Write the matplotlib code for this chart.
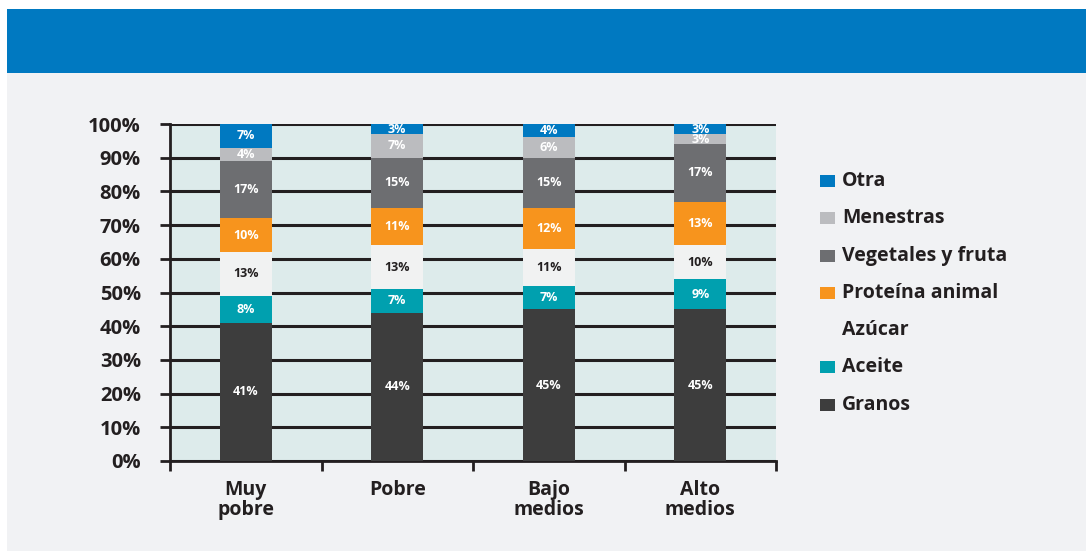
import matplotlib
matplotlib.use("Agg")
import matplotlib.pyplot as plt
from matplotlib.patches import Rectangle
import numpy as np

categories = ["Muy\npobre", "Pobre", "Bajo\nmedios", "Alto\nmedios"]
series_names = ["Granos", "Aceite", "Azúcar", "Proteína animal",
                "Vegetales y fruta", "Menestras", "Otra"]
granos = [41, 44, 45, 45]
aceite = [8, 7, 7, 9]
azucar = [13, 13, 11, 10]
proteina = [10, 11, 12, 13]
vegetales = [17, 15, 15, 17]
menestras = [4, 7, 6, 3]
otra = [7, 3, 4, 3]
series_values = [granos, aceite, azucar, proteina, vegetales, menestras, otra]
colors = ["#3D3D3D", "#00A0AF", "#F1F2F2", "#F7941D", "#6D6E71", "#BBBCBF", "#0079C1"]
label_colors = ["white", "white", "#231F20", "white", "white", "white", "white"]
yticks = [0, 10, 20, 30, 40, 50, 60, 70, 80, 90, 100]

plt.rcParams['font.family'] = ['Open Sans', 'DejaVu Sans']
txt = "#231F20"

W, H = 1086, 551
fig = plt.figure(figsize=(W / 100, H / 100), dpi=100)
fig.patch.set_facecolor("white")
# background panel and header band
fig.patches.append(Rectangle((7 / W, 0), 1 - 7 / W, 1 - 73 / H, transform=fig.transFigure,
                             facecolor="#F1F2F4", edgecolor="none", zorder=-10))
fig.patches.append(Rectangle((7 / W, 1 - 73 / H), 1 - 7 / W, 64 / H, transform=fig.transFigure,
                             facecolor="#0079C1", edgecolor="none", zorder=-10))

ax = fig.add_axes([170 / W, 1 - 461 / H, (776 - 170) / W, (461 - 124) / H])
ax.set_facecolor("#DDEBEB")
x = np.arange(len(categories))
bottom = np.zeros(len(categories))
for name, vals, c, lc in zip(series_names, series_values, colors, label_colors):
    vals = np.array(vals, dtype=float)
    ax.bar(x, vals, 0.34, bottom=bottom, color=c, zorder=3, label=name)
    for xi, b, v in zip(x, bottom, vals):
        ax.text(xi, b + v / 2, f"{int(v)}%", ha="center", va="center",
                fontsize=9, fontweight="bold", color=lc, zorder=4)
    bottom += vals

ax.set_xlim(-0.5, 3.5)
ax.set_ylim(0, 100)
ax.set_yticks(yticks)
ax.set_yticklabels([f"{t}%" for t in yticks], fontsize=14.5, fontweight="bold", color=txt)
ax.yaxis.grid(True, color="#231F20", linewidth=2.2, zorder=1)
ax.set_axisbelow(True)
ax.tick_params(axis="y", length=7, width=2, color="#231F20", pad=14)
ax.set_xticks(x)
ax.set_xticklabels(categories, fontsize=14, fontweight="bold", color=txt, linespacing=0.95)
ax.set_xticks(np.arange(-0.5, 4.0, 1.0), minor=True)
ax.tick_params(axis="x", which="major", length=0, pad=14)
ax.tick_params(axis="x", which="minor", length=7, width=2, color="#231F20")
for s in ["top", "right"]:
    ax.spines[s].set_visible(False)
for s in ["left", "bottom"]:
    ax.spines[s].set_color("#231F20")
    ax.spines[s].set_linewidth(2)

# legend (top to bottom: reversed order)
leg_y = [181, 218, 256, 293, 330, 367, 405]
for yy, name, c in zip(leg_y, series_names[::-1], colors[::-1]):
    if c != "#F1F2F2":
        fig.patches.append(Rectangle((820 / W, 1 - (yy + 6) / H), 15 / W, 12 / H,
                                     transform=fig.transFigure, facecolor=c, edgecolor="none"))
    fig.text(842 / W, 1 - yy / H, name, fontsize=14, fontweight="bold", color=txt,
             va="center", ha="left")

fig.savefig("out.png", dpi=100)
